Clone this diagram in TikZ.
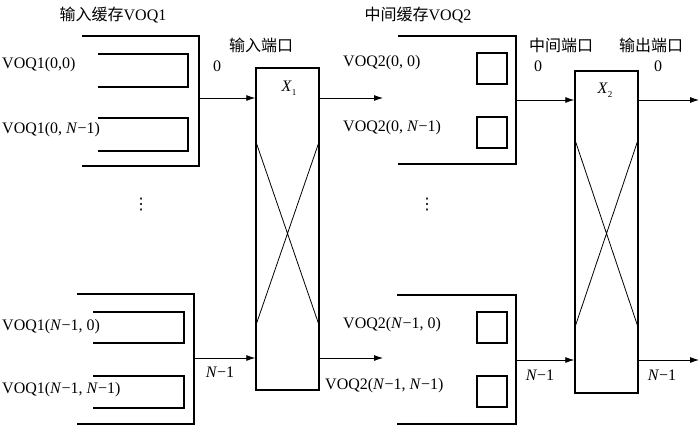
\documentclass[tikz,border=0pt]{standalone}
\usepackage{fontspec}
\setmainfont{Liberation Serif}
\newfontfamily\cjk{Noto Sans CJK SC}
\newfontfamily\sym{DejaVu Sans}
\usetikzlibrary{arrows.meta}
\tikzset{
 queue/.style={line width=1.5pt},
 switch/.style={draw,line width=1.5pt,minimum width=63pt,minimum height=322pt,inner sep=0pt},
 link/.style={-{Latex[length=9pt,width=6pt]},line width=0.8pt},
 lab/.style={anchor=west,inner sep=0pt},
}
\newcommand{\Nmo}{\textit{N}−1}
\begin{document}
\begin{tikzpicture}[font=\fontsize{16}{18}\selectfont,x=1pt,y=-1pt]
\useasboundingbox (0,0) rectangle (700,425);
% input buffer VOQ1
\draw[queue] (82,36)--(199,36)--(199,166)--(82,166);
\draw[queue] (98,54)--(188,54)--(188,87)--(98,87) (98,118)--(188,118)--(188,151)--(98,151);
\draw[queue] (77,294)--(194,294)--(194,424)--(77,424);
\draw[queue] (93,312)--(184,312)--(184,343)--(93,343) (93,376)--(184,376)--(184,408)--(93,408);
\foreach \y/\txt/\nm in {65/{VOQ1(0,0)}/qa,130/{VOQ1(0, \Nmo)}/qb,327/{VOQ1(\Nmo, 0)}/qc,390/{VOQ1(\Nmo, \Nmo)}/qd}{
 \node[lab] (\nm) at (2,\y) {\txt};
}
\node (dots1) at (141,205) {\sym ⋮};
\node (buf1) at (113,15) {{\cjk 输入缓存}VOQ1};
% switch X1
\node[switch] (x1) at (287.5,229) {};
\draw[line width=0.8pt] (256,142)--(319,325) (319,142)--(256,325);
\node (x1lab) at (289,88) {\textit{X}\raisebox{-0.5ex}{\fontsize{9}{9}\selectfont 1}};
\node (inport) at (261,45) {\cjk 输入端口};
\node (in0) at (217,66) {0};
\node (inN) at (220,372) {\Nmo};
\coordinate (b1a) at (199,98);
\coordinate (b1b) at (194,358);
\coordinate (o1a) at (383,98);
\coordinate (o1b) at (383,358);
\draw[link] (b1a) -- (b1a -| x1.west);
\draw[link] (b1b) -- (b1b -| x1.west);
\draw[link] (o1a -| x1.east) -- (o1a);
\draw[link] (o1b -| x1.east) -- (o1b);
% middle buffer VOQ2
\draw[queue] (398,36)--(516,36)--(516,164)--(398,164);
\draw[queue] (397,295)--(516,295)--(516,424)--(397,424);
\foreach \y in {53,117,312,376}{
 \draw[queue] (477,\y) rectangle ++(30,31);
}
\foreach \x/\y/\txt/\nm in {343/63/{VOQ2(0, 0)}/ra,343/128/{VOQ2(0, \Nmo)}/rb,343/325/{VOQ2(\Nmo, 0)}/rc,325/386/{VOQ2(\Nmo, \Nmo)}/rd}{
 \node[lab] (\nm) at (\x,\y) {\txt};
}
\node (dots2) at (427,205) {\sym ⋮};
\node (buf2) at (418,15) {{\cjk 中间缓存}VOQ2};
% switch X2
\node[switch] (x2) at (606.5,232) {};
\draw[line width=0.8pt] (575,140)--(638,327) (638,140)--(575,327);
\node (x2lab) at (605,90) {\textit{X}\raisebox{-0.5ex}{\fontsize{9}{9}\selectfont 2}};
\node (midport) at (561,45) {\cjk 中间端口};
\node (outport) at (651,45) {\cjk 输出端口};
\node (mid0) at (538,66) {0};
\node (out0) at (658,66) {0};
\node (midN) at (540,375) {\Nmo};
\node (outN) at (662,375) {\Nmo};
\coordinate (b2a) at (516,100);
\coordinate (b2b) at (516,360);
\coordinate (o2a) at (699,100);
\coordinate (o2b) at (699,360);
\draw[link] (b2a) -- (b2a -| x2.west);
\draw[link] (b2b) -- (b2b -| x2.west);
\draw[link] (o2a -| x2.east) -- (o2a);
\draw[link] (o2b -| x2.east) -- (o2b);
\end{tikzpicture}
\end{document}
